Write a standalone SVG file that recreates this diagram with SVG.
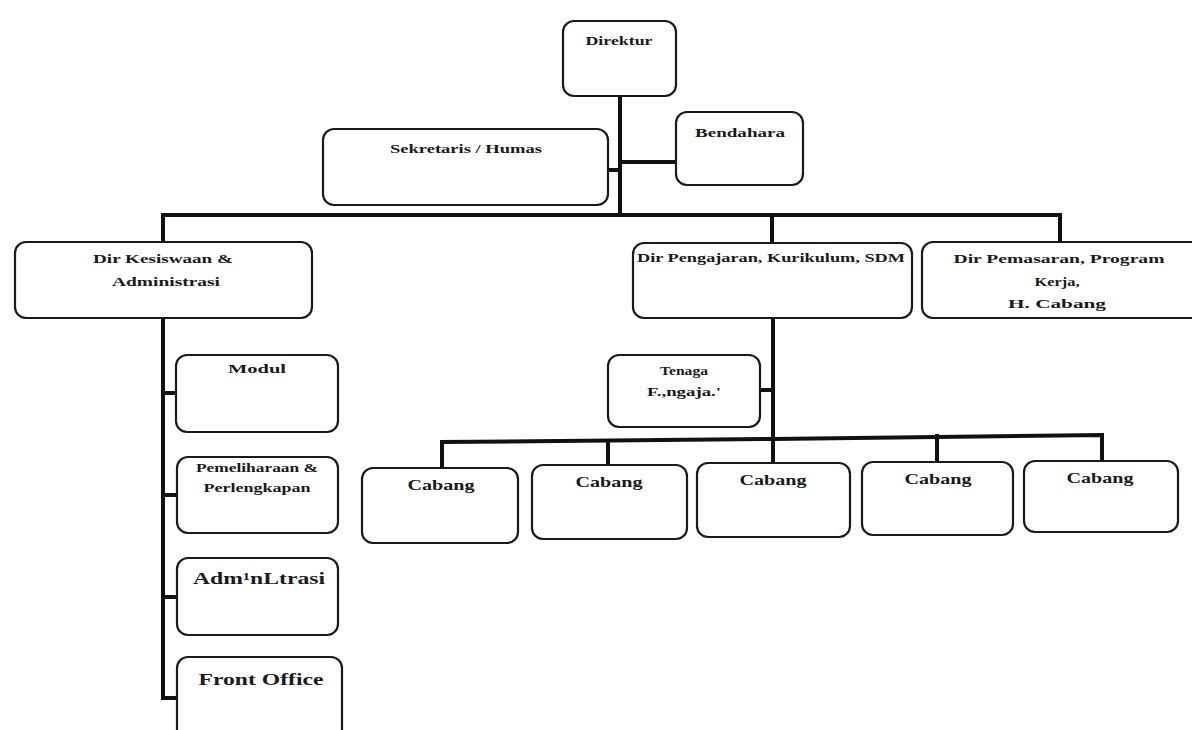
<svg xmlns="http://www.w3.org/2000/svg" width="1192" height="730" viewBox="0 0 1192 730">
<style>
.box{fill:#fff;stroke:#1a1a1a;stroke-width:2.2}
.t{font-family:"Liberation Serif","Times New Roman",serif;font-weight:bold;fill:#1a1a1a;text-anchor:middle;font-size:13px}
.c{fill:none;stroke:#111;stroke-width:4;stroke-linecap:square}
</style>
<rect width="1192" height="730" fill="#fff"/>
<g id="connectors">
<path class="c" d="M620 96 V215"/>
<path class="c" d="M620 162 H676"/>
<path class="c" d="M608 170 H620"/>
<path class="c" d="M163 242 V215 H1060 V242"/>
<path class="c" d="M772 215 V243"/>
<path class="c" d="M163 318 V698 H177"/>
<path class="c" d="M163 393 H176"/>
<path class="c" d="M163 495 H177"/>
<path class="c" d="M163 597 H177"/>
<path class="c" d="M773 318 V463"/>
<path class="c" d="M760 390 H773"/>
<path class="c" d="M442 468 V442 L773 439 L1102 435 V461"/>
<path class="c" d="M608 465 V441"/>
<path class="c" d="M937 462 V436"/>
</g>
<g id="direktur"><rect class="box" x="563" y="21" width="113" height="75" rx="11"/><text class="t" x="619" y="45" textLength="67" lengthAdjust="spacingAndGlyphs">Direktur</text></g>
<g id="bendahara"><rect class="box" x="676" y="112" width="127" height="73" rx="11"/><text class="t" x="740" y="137" textLength="90" lengthAdjust="spacingAndGlyphs">Bendahara</text></g>
<g id="sekretaris"><rect class="box" x="323" y="129" width="285" height="76" rx="11"/><text class="t" x="466" y="153" textLength="152" lengthAdjust="spacingAndGlyphs">Sekretaris / Humas</text></g>
<g id="dir-kesiswaan"><rect class="box" x="15" y="242" width="297" height="76" rx="11"/><text class="t" x="163" y="263" textLength="140" lengthAdjust="spacingAndGlyphs">Dir Kesiswaan &amp;</text><text class="t" x="166" y="286" textLength="108" lengthAdjust="spacingAndGlyphs">Administrasi</text></g>
<g id="dir-pengajaran"><rect class="box" x="633" y="243" width="279" height="75" rx="11"/><text class="t" x="771" y="262" textLength="268" lengthAdjust="spacingAndGlyphs">Dir Pengajaran, Kurikulum, SDM</text></g>
<g id="dir-pemasaran"><rect class="box" x="922" y="242" width="290" height="76" rx="11"/><text class="t" x="1059" y="263" textLength="211" lengthAdjust="spacingAndGlyphs">Dir Pemasaran, Program</text><text class="t" x="1057" y="286" textLength="45" lengthAdjust="spacingAndGlyphs">Kerja,</text><text class="t" x="1057" y="308" textLength="98" lengthAdjust="spacingAndGlyphs">H. Cabang</text></g>
<g id="modul"><rect class="box" x="176" y="355" width="162" height="77" rx="11"/><text class="t" x="257" y="373" textLength="58" lengthAdjust="spacingAndGlyphs">Modul</text></g>
<g id="pemeliharaan"><rect class="box" x="177" y="457" width="161" height="76" rx="11"/><text class="t" x="257" y="472" style="font-size:12px" textLength="122" lengthAdjust="spacingAndGlyphs">Pemeliharaan &amp;</text><text class="t" x="257" y="492" style="font-size:12px" textLength="107" lengthAdjust="spacingAndGlyphs">Perlengkapan</text></g>
<g id="administrasi"><rect class="box" x="177" y="558" width="161" height="77" rx="11"/><text class="t" x="259" y="584" style="font-size:16px" textLength="132" lengthAdjust="spacingAndGlyphs">Adm¹nLtrasi</text></g>
<g id="front-office"><rect class="box" x="177" y="657" width="165" height="90" rx="11"/><text class="t" x="261" y="685" style="font-size:17px" textLength="125" lengthAdjust="spacingAndGlyphs">Front Office</text></g>
<g id="tenaga"><rect class="box" x="608" y="355" width="152" height="72" rx="11"/><text class="t" x="684" y="375" textLength="48" lengthAdjust="spacingAndGlyphs">Tenaga</text><text class="t" x="684" y="396" textLength="74" lengthAdjust="spacingAndGlyphs">F.,ngaja.'</text></g>
<g id="cabang1"><rect class="box" x="362" y="468" width="156" height="75" rx="11"/><text class="t" x="441" y="490" style="font-size:14px" textLength="67" lengthAdjust="spacingAndGlyphs">Cabang</text></g>
<g id="cabang2"><rect class="box" x="532" y="465" width="155" height="74" rx="11"/><text class="t" x="609" y="487" style="font-size:14px" textLength="67" lengthAdjust="spacingAndGlyphs">Cabang</text></g>
<g id="cabang3"><rect class="box" x="697" y="463" width="153" height="74" rx="11"/><text class="t" x="773" y="485" style="font-size:14px" textLength="67" lengthAdjust="spacingAndGlyphs">Cabang</text></g>
<g id="cabang4"><rect class="box" x="862" y="462" width="151" height="73" rx="11"/><text class="t" x="938" y="484" style="font-size:14px" textLength="67" lengthAdjust="spacingAndGlyphs">Cabang</text></g>
<g id="cabang5"><rect class="box" x="1024" y="461" width="154" height="71" rx="11"/><text class="t" x="1100" y="483" style="font-size:14px" textLength="67" lengthAdjust="spacingAndGlyphs">Cabang</text></g>
</svg>
